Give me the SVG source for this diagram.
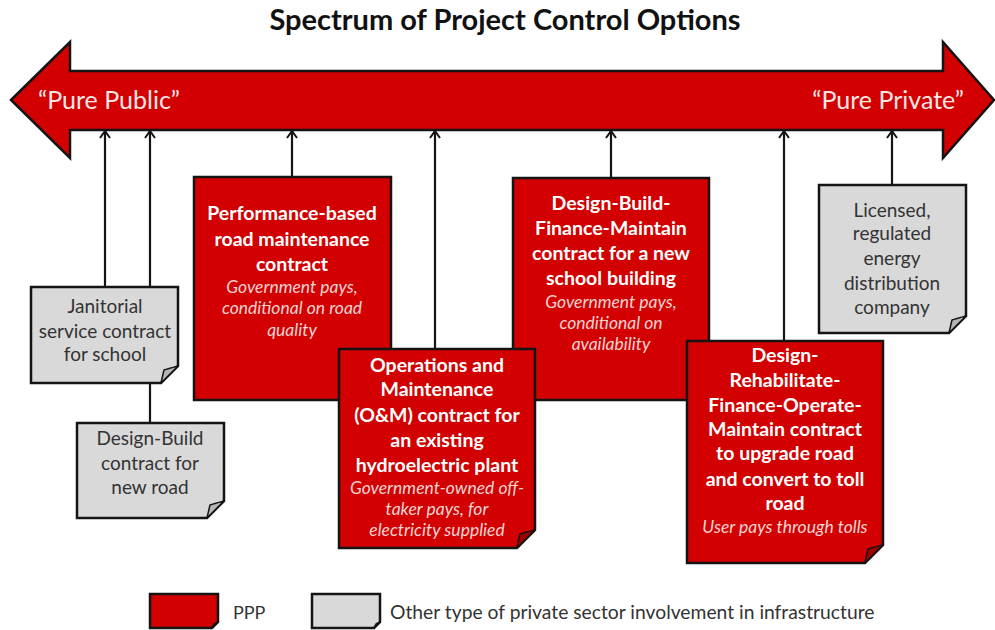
<svg xmlns="http://www.w3.org/2000/svg" width="995" height="630" viewBox="0 0 995 630">
<defs>
<style>
.ppp{fill:#D20000;stroke:#141414;stroke-width:2.5;stroke-linejoin:miter}
.oth{fill:#D9D9D9;stroke:#141414;stroke-width:2.5;stroke-linejoin:miter}
.fr{fill:#9E0000;stroke:#141414;stroke-width:1.5;stroke-linejoin:round}
.fg{fill:#B5B5B5;stroke:#141414;stroke-width:1.5;stroke-linejoin:round}
.tb{font-family:Lato,"Liberation Sans",sans-serif;font-weight:bold;font-size:19.5px;fill:#FFFFFF;text-anchor:middle}
.ti{font-family:Lato,"Liberation Sans",sans-serif;font-style:italic;font-size:17.5px;fill:#F6D4D4;text-anchor:middle}
.tg{font-family:Lato,"Liberation Sans",sans-serif;font-size:19px;fill:#333333;text-anchor:middle}
.conn{stroke:#141414;stroke-width:2.2;fill:none}
</style>
<marker id="ah" viewBox="0 0 10 12" refX="8.5" refY="6" markerWidth="10" markerHeight="12" markerUnits="userSpaceOnUse" orient="auto">
<path d="M1.5,1 L8.5,6 L1.5,11" fill="none" stroke="#141414" stroke-width="2"/>
</marker>
</defs>
<rect width="995" height="630" fill="#FFFFFF"/>
<text x="505" y="30" text-anchor="middle" font-family="Lato,'Liberation Sans',sans-serif" font-weight="bold" font-size="29" fill="#111111">Spectrum of Project Control Options</text>
<g id="spectrum-arrow">
<polygon points="11,100 70,42 70,71 943,71 943,42 994,100 943,158 943,130 70,130 70,158" fill="#D20000" stroke="#141414" stroke-width="2.5" stroke-linejoin="miter"/>
<text x="38" y="109" font-family="Lato,'Liberation Sans',sans-serif" font-size="25" fill="#FBE6E6">“Pure Public”</text>
<text x="964" y="109" text-anchor="end" font-family="Lato,'Liberation Sans',sans-serif" font-size="25" fill="#FBE6E6">“Pure Private”</text>
</g>
<g id="connectors">
<line class="conn" x1="105" y1="287" x2="105" y2="131" marker-end="url(#ah)"/>
<line class="conn" x1="150" y1="423" x2="150" y2="131" marker-end="url(#ah)"/>
<line class="conn" x1="292" y1="177" x2="292" y2="131" marker-end="url(#ah)"/>
<line class="conn" x1="435" y1="349" x2="435" y2="131" marker-end="url(#ah)"/>
<line class="conn" x1="611" y1="178" x2="611" y2="131" marker-end="url(#ah)"/>
<line class="conn" x1="784" y1="341" x2="784" y2="131" marker-end="url(#ah)"/>
<line class="conn" x1="892" y1="185" x2="892" y2="131" marker-end="url(#ah)"/>
</g>
<g id="node-performance">
<path class="ppp" d="M194,177 H391 V382 L373,400 H194 Z"/>
<path class="fr" d="M373,400 L391,382 Q379,385 376,386 Q375,390 373,400 Z"/>
<text class="tb" x="292" y="220">Performance-based</text>
<text class="tb" x="292" y="246">road maintenance</text>
<text class="tb" x="292" y="271">contract</text>
<text class="ti" x="292" y="293">Government pays,</text>
<text class="ti" x="292" y="314">conditional on road</text>
<text class="ti" x="292" y="336">quality</text>
</g>
<g id="node-dbfm">
<path class="ppp" d="M513,178 H709 V382 L691,400 H513 Z"/>
<path class="fr" d="M691,400 L709,382 Q697,385 694,386 Q693,390 691,400 Z"/>
<text class="tb" x="611" y="210">Design-Build-</text>
<text class="tb" x="611" y="235">Finance-Maintain</text>
<text class="tb" x="611" y="260">contract for a new</text>
<text class="tb" x="611" y="285">school building</text>
<text class="ti" x="611" y="308">Government pays,</text>
<text class="ti" x="611" y="329">conditional on</text>
<text class="ti" x="611" y="350">availability</text>
</g>
<g id="node-om">
<path class="ppp" d="M339,349 H535 V530 L517,548 H339 Z"/>
<path class="fr" d="M517,548 L535,530 Q523,533 520,534 Q519,538 517,548 Z"/>
<text class="tb" x="437" y="372">Operations and</text>
<text class="tb" x="437" y="396">Maintenance</text>
<text class="tb" x="437" y="422">(O&amp;M) contract for</text>
<text class="tb" x="437" y="447">an existing</text>
<text class="tb" x="437" y="472">hydroelectric plant</text>
<text class="ti" x="437" y="494">Government-owned off-</text>
<text class="ti" x="437" y="515">taker pays, for</text>
<text class="ti" x="437" y="536">electricity supplied</text>
</g>
<g id="node-drfom">
<path class="ppp" d="M687,341 H883 V545 L865,563 H687 Z"/>
<path class="fr" d="M865,563 L883,545 Q871,548 868,549 Q867,553 865,563 Z"/>
<text class="tb" x="785" y="362">Design-</text>
<text class="tb" x="785" y="387">Rehabilitate-</text>
<text class="tb" x="785" y="412">Finance-Operate-</text>
<text class="tb" x="785" y="436">Maintain contract</text>
<text class="tb" x="785" y="460">to upgrade road</text>
<text class="tb" x="785" y="486">and convert to toll</text>
<text class="tb" x="785" y="510">road</text>
<text class="ti" x="785" y="533">User pays through tolls</text>
</g>
<g id="node-janitorial">
<path class="oth" d="M31,287 H178 V366 L161,383 H31 Z"/>
<path class="fg" d="M161,383 L178,366 Q167,369 164,370 Q163,374 161,383 Z"/>
<text class="tg" x="105" y="313">Janitorial</text>
<text class="tg" x="105" y="338">service contract</text>
<text class="tg" x="105" y="361">for school</text>
</g>
<g id="node-design-build">
<path class="oth" d="M77,423 H224 V501 L207,518 H77 Z"/>
<path class="fg" d="M207,518 L224,501 Q213,504 210,505 Q209,509 207,518 Z"/>
<text class="tg" x="150" y="445">Design-Build</text>
<text class="tg" x="150" y="470">contract for</text>
<text class="tg" x="150" y="494">new road</text>
</g>
<g id="node-licensed">
<path class="oth" d="M819,185 H966 V316 L949,333 H819 Z"/>
<path class="fg" d="M949,333 L966,316 Q955,319 952,320 Q951,324 949,333 Z"/>
<text class="tg" x="892" y="217">Licensed,</text>
<text class="tg" x="892" y="240">regulated</text>
<text class="tg" x="892" y="265">energy</text>
<text class="tg" x="892" y="290">distribution</text>
<text class="tg" x="892" y="314">company</text>
</g>
<g id="legend">
<path class="ppp" d="M150,594 H218 V622 L212,628 H150 Z"/>
<path class="fr" d="M212,628 L218,622 L214,624 Z"/>
<text x="233" y="619" font-family="Lato,'Liberation Sans',sans-serif" font-size="18" fill="#333333">PPP</text>
<path class="oth" d="M312,594 H380 V622 L374,628 H312 Z"/>
<path class="fg" d="M374,628 L380,622 L376,624 Z"/>
<text x="390" y="619" font-family="Lato,'Liberation Sans',sans-serif" font-size="19.3" fill="#333333">Other type of private sector involvement in infrastructure</text>
</g>
</svg>
